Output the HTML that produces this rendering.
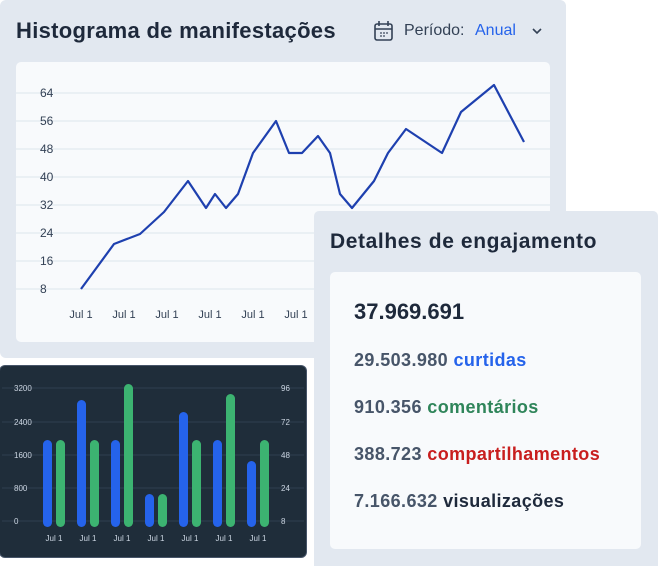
<!DOCTYPE html>
<html><head><style>
body{margin:0;width:658px;height:566px;background:#fff;position:relative;overflow:hidden;font-family:"Liberation Sans",sans-serif}
.p{position:absolute;white-space:nowrap}
</style></head><body>
<div class="p" style="left:0;top:0;width:566px;height:358px;background:#e2e8f0;border-radius:6px"></div>
<div class="p" style="left:16px;top:18px;font-size:22px;letter-spacing:0.3px;font-weight:bold;color:#1e293b">Histograma de manifestações</div>
<svg class="p" style="left:373px;top:20px" width="22" height="22" viewBox="0 0 22 22"><rect x="2" y="4" width="17" height="16" rx="2" fill="none" stroke="#334155" stroke-width="1.6"/><line x1="2" y1="9" x2="19" y2="9" stroke="#334155" stroke-width="1.6"/><line x1="6" y1="1" x2="6" y2="6" stroke="#334155" stroke-width="1.6"/><line x1="15" y1="1" x2="15" y2="6" stroke="#334155" stroke-width="1.6"/><circle cx="8" cy="13" r=".9" fill="#334155"/><circle cx="11" cy="13" r=".9" fill="#334155"/><circle cx="14" cy="13" r=".9" fill="#334155"/><circle cx="8" cy="16" r=".9" fill="#334155"/><circle cx="11" cy="16" r=".9" fill="#334155"/></svg>
<div class="p" style="left:404px;top:22px;font-size:16px;color:#334155">Período:</div>
<div class="p" style="left:475px;top:22px;font-size:16px;color:#2563eb">Anual</div>
<svg class="p" style="left:530px;top:25px" width="14" height="12"><polyline points="3,4 7,8 11,4" fill="none" stroke="#334155" stroke-width="1.6"/></svg>
<div class="p" style="left:16px;top:62px;width:534px;height:280px;background:#f8fafc;border-radius:5px"></div>
<svg class="p" style="left:0;top:0" width="566" height="358" font-family="Liberation Sans" font-size="12" fill="#334155">
<g stroke="#e6ecf2" stroke-width="1.5"><line x1="16" x2="550" y1="93" y2="93"/><line x1="16" x2="550" y1="121" y2="121"/><line x1="16" x2="550" y1="149" y2="149"/><line x1="16" x2="550" y1="177" y2="177"/><line x1="16" x2="550" y1="205" y2="205"/><line x1="16" x2="550" y1="233" y2="233"/><line x1="16" x2="550" y1="261" y2="261"/><line x1="16" x2="550" y1="289" y2="289"/></g>
<g><text x="40" y="97">64</text><text x="40" y="125">56</text><text x="40" y="153">48</text><text x="40" y="181">40</text><text x="40" y="209">32</text><text x="40" y="237">24</text><text x="40" y="265">16</text><text x="40" y="293">8</text></g>
<g font-size="11" text-anchor="middle"><text x="81" y="318">Jul 1</text><text x="124" y="318">Jul 1</text><text x="167" y="318">Jul 1</text><text x="210" y="318">Jul 1</text><text x="253" y="318">Jul 1</text><text x="296" y="318">Jul 1</text></g>
<polyline fill="none" stroke="#1e40af" stroke-width="2.2" stroke-linejoin="round" points="81,289 114,244 140,234 164,212 188,181 206,208 215,194 226,208 238,194 253,153 276,121 289,153 302,153 318,136 330,153 340,194 352,208 374,181 388,153 406,129 442,153 461,112 494,85 524,142"/>
</svg>
<div class="p" style="left:0;top:366px;width:306px;height:191px;background:#1f2d3a;border-radius:5px;box-shadow:0 0 0 1px #475569"></div>
<svg class="p" style="left:0;top:366px" width="306" height="191" font-family="Liberation Sans" font-size="8" fill="#cbd5e1">
<g stroke="#2f3f50"><line x1="2" x2="304" y1="22" y2="22"/><line x1="2" x2="304" y1="56" y2="56"/><line x1="2" x2="304" y1="89" y2="89"/><line x1="2" x2="304" y1="122" y2="122"/><line x1="2" x2="304" y1="155" y2="155"/></g>
<text x="14" y="25">3200</text><text x="14" y="59">2400</text><text x="14" y="92">1600</text><text x="14" y="125">800</text><text x="14" y="158">0</text>
<text x="281" y="25">96</text><text x="281" y="59">72</text><text x="281" y="92">48</text><text x="281" y="125">24</text><text x="281" y="158">8</text>
<g fill="#2563eb"><rect x="43" y="74" width="9" height="87" rx="4.5"/><rect x="77" y="34" width="9" height="127" rx="4.5"/><rect x="111" y="74" width="9" height="87" rx="4.5"/><rect x="145" y="128" width="9" height="33" rx="4.5"/><rect x="179" y="46" width="9" height="115" rx="4.5"/><rect x="213" y="74" width="9" height="87" rx="4.5"/><rect x="247" y="95" width="9" height="66" rx="4.5"/></g>
<g fill="#3cb371"><rect x="56" y="74" width="9" height="87" rx="4.5"/><rect x="90" y="74" width="9" height="87" rx="4.5"/><rect x="124" y="18" width="9" height="143" rx="4.5"/><rect x="158" y="128" width="9" height="33" rx="4.5"/><rect x="192" y="74" width="9" height="87" rx="4.5"/><rect x="226" y="28" width="9" height="133" rx="4.5"/><rect x="260" y="74" width="9" height="87" rx="4.5"/></g>
<g text-anchor="middle"><text x="54" y="175">Jul 1</text><text x="88" y="175">Jul 1</text><text x="122" y="175">Jul 1</text><text x="156" y="175">Jul 1</text><text x="190" y="175">Jul 1</text><text x="224" y="175">Jul 1</text><text x="258" y="175">Jul 1</text></g>
</svg>
<div class="p" style="left:314px;top:211px;width:344px;height:355px;background:#e2e8f0;border-radius:5px 5px 0 0"></div>
<div class="p" style="left:330px;top:230px;font-size:21px;letter-spacing:0.6px;font-weight:bold;color:#1e293b">Detalhes de engajamento</div>
<div class="p" style="left:330px;top:272px;width:311px;height:277px;background:#f8fafc;border-radius:5px"></div>
<div class="p" style="left:354px;top:299px;font-size:22px;font-weight:bold;color:#1e293b">37.969.691</div>
<div class="p" style="left:354px;top:350px;font-size:18px;letter-spacing:0.4px;font-weight:bold;color:#475569">29.503.980 <span style="color:#2563eb">curtidas</span></div>
<div class="p" style="left:354px;top:397px;font-size:18px;letter-spacing:0.4px;font-weight:bold;color:#475569">910.356 <span style="color:#2f855a">comentários</span></div>
<div class="p" style="left:354px;top:444px;font-size:18px;letter-spacing:0.4px;font-weight:bold;color:#475569">388.723 <span style="color:#c81e1e">compartilhamentos</span></div>
<div class="p" style="left:354px;top:491px;font-size:18px;letter-spacing:0.4px;font-weight:bold;color:#475569">7.166.632 <span style="color:#1e293b">visualizações</span></div>
</body></html>
